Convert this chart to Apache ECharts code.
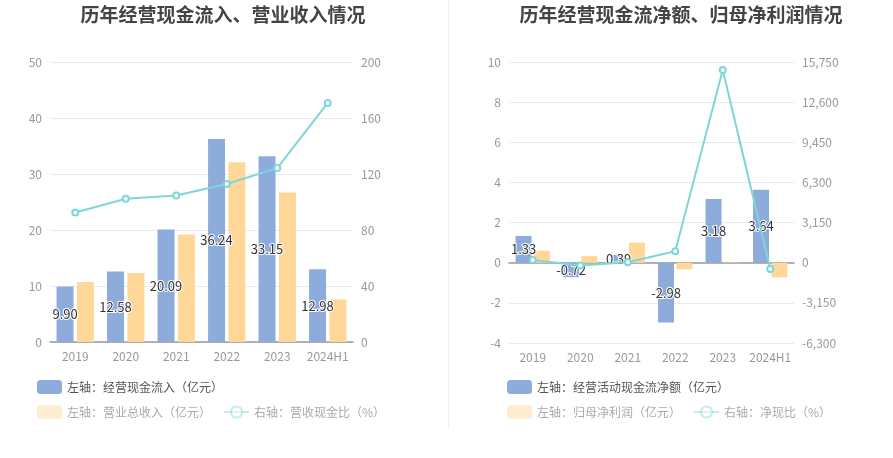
<!DOCTYPE html>
<html>
<head>
<meta charset="utf-8">
<script src="https://cdn.jsdelivr.net/npm/echarts@6/dist/echarts.min.js"></script>
<style>
html,body{margin:0;padding:0;background:#fff;}
#main{width:893px;height:458px;}
</style>
</head>
<body>
<div id="main"></div>
<script>
const categories = ['2019','2020','2021','2022','2023','2024H1'];
// Left chart
const cashInflow = [9.90, 12.58, 20.09, 36.24, 33.15, 12.98];
const revenue = [10.7, 12.3, 19.2, 32.1, 26.7, 7.6];
const cashRevenueRatio = [92.5, 102.3, 104.6, 112.9, 124.2, 170.8];
// Right chart
const netCashFlow = [1.33, -0.72, 0.39, -2.98, 3.18, 3.64];
const netProfit = [0.60, 0.33, 1.00, -0.33, 0.021, -0.73];
const netCashRatio = [222, -218, 39, 903, 15121, -499];

const names = {
  a1: '左轴：经营现金流入（亿元）',
  a2: '左轴：营业总收入（亿元）',
  a3: '右轴：营收现金比（%）',
  b1: '左轴：经营活动现金流净额（亿元）',
  b2: '左轴：归母净利润（亿元）',
  b3: '右轴：净现比（%）'
};

const BLUE = '#8eacdb', ORANGE = '#ffd899', CYAN = '#7fd6d8';
const font = '"Noto Sans CJK SC", "Noto Sans", sans-serif';
const axisLabel = {color: '#999', fontSize: 12, fontFamily: font};
const splitLine = {lineStyle: {color: '#e6eaf5'}};

const chart = echarts.init(document.getElementById('main'));
const label = {
  show: true, position: 'inside', color: '#333', fontSize: 13, fontFamily: font,
  textBorderColor: '#fff', textBorderWidth: 2,
  formatter: p => p.value.toFixed(2)
};
const legendCommon = {
  orient: 'horizontal', itemWidth: 25, itemHeight: 14, itemGap: 12,
  textStyle: {fontSize: 12, color: '#555', fontFamily: font}
};
const legendFaded = Object.assign({}, legendCommon, {
  textStyle: {fontSize: 12, color: '#aaa', fontFamily: font},
  itemStyle: {opacity: 0.45},
  lineStyle: {opacity: 0.45}
});

chart.setOption({
  animation: false,
  textStyle: {fontFamily: font},
  title: [
    {text: '历年经营现金流入、营业收入情况', left: 218, top: 0, textAlign: 'center',
     textStyle: {fontSize: 19, fontWeight: 'bold', color: '#444', fontFamily: font}},
    {text: '历年经营现金流净额、归母净利润情况', left: 676, top: 0, textAlign: 'center',
     textStyle: {fontSize: 19, fontWeight: 'bold', color: '#444', fontFamily: font}}
  ],
  graphic: [{
    type: 'line', shape: {x1: 448.5, y1: 0, x2: 448.5, y2: 427},
    style: {stroke: '#eeeeee', lineWidth: 1}
  }],
  legend: [
    Object.assign({}, legendCommon, {left: 32, top: 375, data: [names.a1]}),
    Object.assign({}, legendFaded, {left: 32, top: 400, data: [names.a2, names.a3]}),
    Object.assign({}, legendCommon, {left: 502, top: 375, data: [names.b1]}),
    Object.assign({}, legendFaded, {left: 502, top: 400, data: [names.b2, names.b3]})
  ],
  grid: [
    {left: 50, top: 62, width: 303, height: 280},
    {left: 509, top: 62, width: 285, height: 281}
  ],
  xAxis: [
    {type: 'category', gridIndex: 0, data: categories,
     axisLine: {lineStyle: {color: '#999', width: 1.5}}, axisTick: {alignWithLabel: true, lineStyle: {color: '#999'}},
     axisLabel: Object.assign({}, axisLabel, {interval: 0})},
    {type: 'category', gridIndex: 1, data: categories,
     axisLine: {onZero: true, lineStyle: {color: '#999', width: 1.5}}, axisTick: {alignWithLabel: true, lineStyle: {color: '#999'}},
     axisLabel: Object.assign({}, axisLabel, {interval: 0}), position: 'bottom'}
  ],
  yAxis: [
    {type: 'value', gridIndex: 0, min: 0, max: 50, interval: 10, axisLabel: axisLabel, splitLine: splitLine,
     axisLine: {show: false}, axisTick: {show: false}},
    {type: 'value', gridIndex: 0, min: 0, max: 200, interval: 40, axisLabel: axisLabel, splitLine: {show: false},
     axisLine: {show: false}, axisTick: {show: false}, position: 'right'},
    {type: 'value', gridIndex: 1, min: -4, max: 10, interval: 2, axisLabel: axisLabel, splitLine: splitLine,
     axisLine: {show: false}, axisTick: {show: false}},
    {type: 'value', gridIndex: 1, min: -6300, max: 15750, interval: 3150, position: 'right',
     axisLabel: Object.assign({}, axisLabel, {formatter: v => v.toLocaleString('en-US')}),
     splitLine: {show: false}, axisLine: {show: false}, axisTick: {show: false}}
  ],
  series: [
    {name: names.a1, type: 'bar', xAxisIndex: 0, yAxisIndex: 0, data: cashInflow, barWidth: 17, barGap: '20%',
     itemStyle: {color: BLUE}, label: label, z: 2},
    {name: names.a2, type: 'bar', xAxisIndex: 0, yAxisIndex: 0, data: revenue, barWidth: 17, barGap: '20%',
     itemStyle: {color: ORANGE}},
    {name: names.a3, type: 'line', xAxisIndex: 0, yAxisIndex: 1, data: cashRevenueRatio,
     symbol: 'emptyCircle', symbolSize: 6, lineStyle: {color: CYAN, width: 2}, itemStyle: {color: CYAN}, z: 5},
    {name: names.b1, type: 'bar', xAxisIndex: 1, yAxisIndex: 2, data: netCashFlow, barWidth: 16, barGap: '15%',
     itemStyle: {color: BLUE}, label: label, z: 2},
    {name: names.b2, type: 'bar', xAxisIndex: 1, yAxisIndex: 2, data: netProfit, barWidth: 16, barGap: '15%',
     itemStyle: {color: ORANGE}},
    {name: names.b3, type: 'line', xAxisIndex: 1, yAxisIndex: 3, data: netCashRatio,
     symbol: 'emptyCircle', symbolSize: 6, lineStyle: {color: CYAN, width: 2}, itemStyle: {color: CYAN}, z: 5}
  ]
});
</script>
</body>
</html>
